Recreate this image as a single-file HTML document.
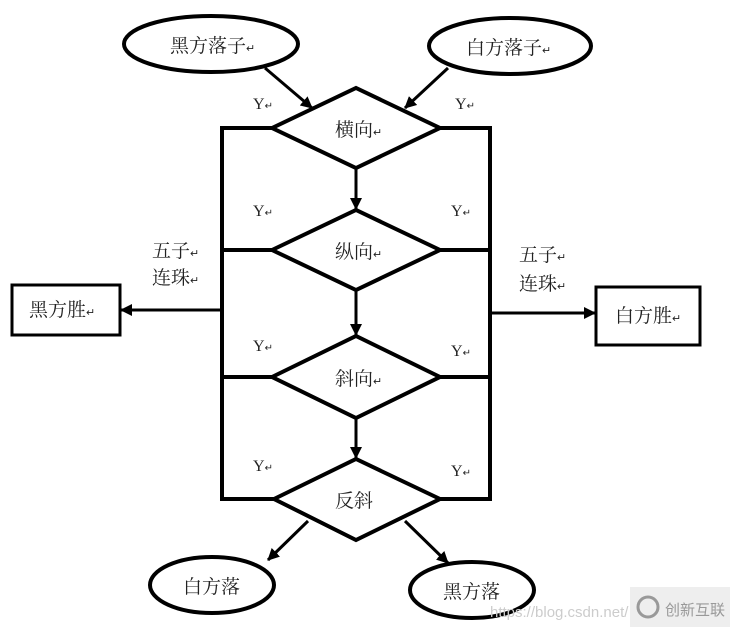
<!DOCTYPE html><html><head><meta charset="utf-8"><style>body{margin:0;background:#fff}</style></head><body>
<svg width="730" height="631" viewBox="0 0 730 631" xmlns="http://www.w3.org/2000/svg" font-family="Liberation Serif, Noto Serif CJK SC, serif">
<defs>
<marker id="b" markerWidth="12" markerHeight="12" refX="11" refY="6" orient="auto" markerUnits="userSpaceOnUse" viewBox="0 0 12 12"><path d="M0,0 L12,6 L0,12 z" fill="#000"/></marker></defs>
<g fill="none" stroke="#000" stroke-width="4">
<ellipse cx="211" cy="44" rx="87" ry="28"/>
<ellipse cx="510" cy="46" rx="81" ry="28"/>
<ellipse cx="212" cy="585" rx="62" ry="28"/>
<ellipse cx="472" cy="590" rx="62" ry="28"/>
<path d="M272,128 L356,88 L440,128 L356,168 Z"/>
<path d="M272,250 L356,210 L440,250 L356,290 Z"/>
<path d="M272,377 L356,336 L440,377 L356,418 Z"/>
<path d="M274,499 L356,459 L440,499 L356,540 Z"/>
<path d="M272,128 H222 V499 H274 M222,250 H272 M222,377 H272"/>
<path d="M440,128 H490 V499 H440 M490,250 H440 M490,377 H440"/>
<rect x="12" y="285" width="108" height="50" stroke-width="3"/>
<rect x="596" y="287" width="104" height="58" stroke-width="3"/>
</g>
<g stroke="#000" stroke-width="3">
<line x1="356" y1="168" x2="356" y2="209" marker-end="url(#b)"/>
<line x1="356" y1="290" x2="356" y2="335" marker-end="url(#b)"/>
<line x1="356" y1="418" x2="356" y2="458" marker-end="url(#b)"/>
<line x1="265" y1="68" x2="312" y2="108" marker-end="url(#b)"/>
<line x1="448" y1="68" x2="405" y2="108" marker-end="url(#b)"/>
<line x1="308" y1="521" x2="268" y2="560" marker-end="url(#b)"/>
<line x1="405" y1="521" x2="448" y2="563" marker-end="url(#b)"/>
<line x1="222" y1="310" x2="121" y2="310" marker-end="url(#b)"/>
<line x1="490" y1="313" x2="595" y2="313" marker-end="url(#b)"/>
</g>
<g font-size="19" fill="#222">
<text x="170" y="52">黑方落子<tspan font-size="11">↵</tspan></text>
<text x="466" y="54">白方落子<tspan font-size="11">↵</tspan></text>
<text x="335" y="136">横向<tspan font-size="11">↵</tspan></text>
<text x="335" y="258">纵向<tspan font-size="11">↵</tspan></text>
<text x="335" y="385">斜向<tspan font-size="11">↵</tspan></text>
<text x="335" y="507">反斜</text>
<text x="183" y="593">白方落</text>
<text x="443" y="598">黑方落</text>
<text x="29" y="316">黑方胜<tspan font-size="11">↵</tspan></text>
<text x="615" y="322">白方胜<tspan font-size="11">↵</tspan></text>
<text x="152" y="257">五子<tspan font-size="11">↵</tspan></text>
<text x="152" y="284">连珠<tspan font-size="11">↵</tspan></text>
<text x="519" y="261">五子<tspan font-size="11">↵</tspan></text>
<text x="519" y="290">连珠<tspan font-size="11">↵</tspan></text>
</g>
<g font-size="16" fill="#222">
<text x="253" y="109">Y<tspan font-size="10">↵</tspan></text>
<text x="455" y="109">Y<tspan font-size="10">↵</tspan></text>
<text x="253" y="216">Y<tspan font-size="10">↵</tspan></text>
<text x="451" y="216">Y<tspan font-size="10">↵</tspan></text>
<text x="253" y="351">Y<tspan font-size="10">↵</tspan></text>
<text x="451" y="356">Y<tspan font-size="10">↵</tspan></text>
<text x="253" y="471">Y<tspan font-size="10">↵</tspan></text>
<text x="451" y="476">Y<tspan font-size="10">↵</tspan></text>
</g>
<text x="490" y="617" font-family="Liberation Sans, sans-serif" font-size="15" fill="#ccc">https://blog.csdn.net/</text>
<rect x="630" y="587" width="100" height="40" fill="#eee"/>
<text x="665" y="615" font-family="Liberation Sans, Noto Sans CJK SC, sans-serif" font-size="15" fill="#999">创新互联</text>
<circle cx="648" cy="607" r="10" fill="none" stroke="#999" stroke-width="3"/>
</svg>
</body></html>
